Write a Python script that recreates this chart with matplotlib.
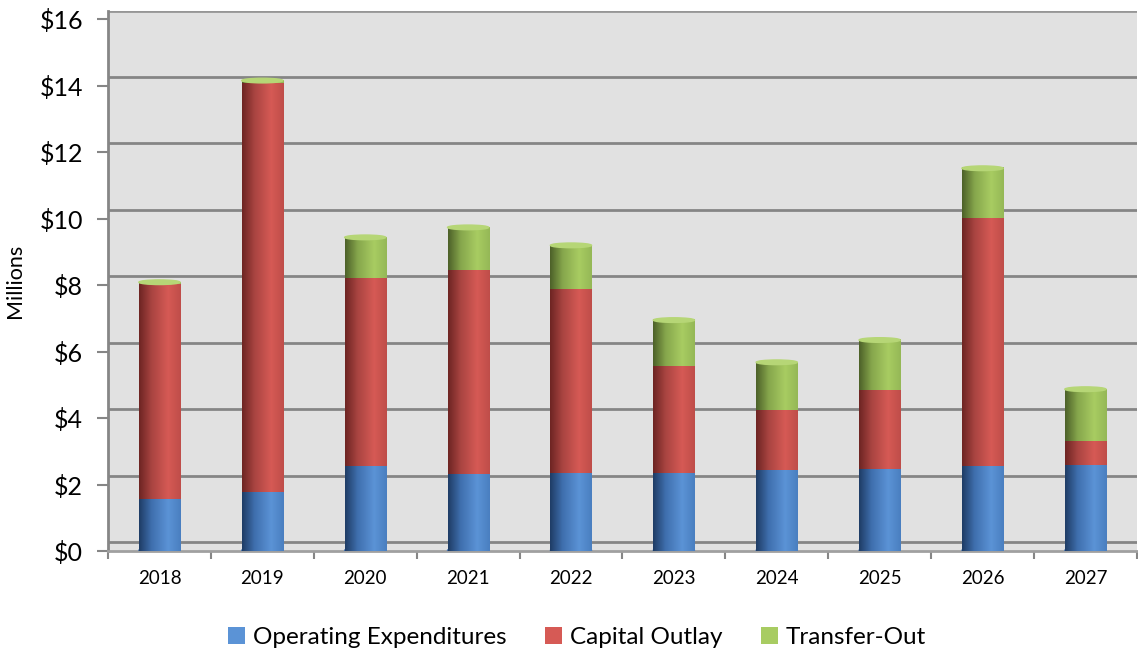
import numpy as np
import matplotlib.pyplot as plt
from matplotlib.colors import LinearSegmentedColormap
from matplotlib.patches import Ellipse

years = ["2018", "2019", "2020", "2021", "2022", "2023", "2024", "2025", "2026", "2027"]
operating = [1.56, 1.77, 2.56, 2.32, 2.35, 2.35, 2.44, 2.47, 2.56, 2.59]
capital = [6.47, 12.32, 5.65, 6.13, 5.53, 3.21, 1.80, 2.37, 7.45, 0.72]
transfer = [0.06, 0.07, 1.23, 1.29, 1.32, 1.39, 1.44, 1.51, 1.51, 1.56]

series = [
    ("Operating Expenditures", operating, ["#1f3d66", "#3f6fae", "#5b93d6", "#4a7fc0"], "#6a9fdd"),
    ("Capital Outlay", capital, ["#6e2523", "#a94441", "#d65a55", "#bf4d49"], "#de6b66"),
    ("Transfer-Out", transfer, ["#4d6129", "#86a64c", "#a8cc62", "#95b856"], "#b6d676"),
]

plt.rcParams['font.family'] = ['Lato', 'DejaVu Sans']

fig = plt.figure(figsize=(11.38, 6.54), dpi=100)
ax = fig.add_axes([0.0949, 0.1575, 0.9041, 0.8255])
ax.set_facecolor("#e1e1e1")

x = np.arange(len(years))
w = 0.4
ymax = 16.25

# back-wall gridlines (shifted up a little like the 3D chart)
for v in range(0, 17, 2):
    ax.axhline(v + 0.27, color="#858585", lw=2, zorder=1)

grad = np.linspace(0, 1, 64).reshape(1, -1)
bottom = np.zeros(len(years))
for name, vals, cols, capcol in series:
    cmap = LinearSegmentedColormap.from_list(name, list(zip([0, 0.3, 0.7, 1.0], cols)))
    for i, v in enumerate(vals):
        ax.imshow(grad, cmap=cmap, aspect="auto", zorder=3,
                  extent=[x[i] - w / 2, x[i] + w / 2, bottom[i], bottom[i] + v])
    ax.bar(x, vals, w, bottom=bottom, color=cols[2], label=name, zorder=0)
    bottom = bottom + np.array(vals)

# bottom rounding and top caps of cylinders
for i in range(len(years)):
    ax.add_patch(Ellipse((x[i], 0.02), w, 0.14, color="#3f6fae", zorder=2.9))
    ax.add_patch(Ellipse((x[i], bottom[i]), w, 0.14, color=series[-1][3], zorder=4))

ax.set_xlim(-0.5, len(years) - 0.5)
ax.set_ylim(0, ymax)

ax.set_yticks(range(0, 17, 2))
ax.set_yticklabels(["$%d" % v for v in range(0, 17, 2)], fontsize=18)
ax.set_xticks(x)
ax.set_xticklabels(years, fontsize=13.5)
ax.set_xticks(np.arange(-0.5, len(years)), minor=True)
ax.tick_params(axis="x", which="major", length=0, pad=14)
ax.tick_params(axis="x", which="minor", length=6, width=1.5, color="#868686")
ax.tick_params(axis="y", length=8, width=1.5, color="#868686", pad=10)
ax.set_ylabel("Millions", fontsize=15.5, labelpad=10)

for s in ["top", "right"]:
    ax.spines[s].set_visible(False)
ax.spines["left"].set_color("#868686")
ax.spines["left"].set_linewidth(2)
ax.spines["bottom"].set_color("#a0a0a0")
ax.spines["bottom"].set_linewidth(2)
ax.axhline(ymax, color="#969696", lw=2, zorder=1)

handles, labels = ax.get_legend_handles_labels()
fig.legend(handles, labels, loc="lower center", bbox_to_anchor=(0.507, -0.025), ncol=3,
           frameon=False, fontsize=17.5, handlelength=0.7, handleheight=0.7,
           handletextpad=0.3, columnspacing=1.6)

fig.savefig("out.png", dpi=100)
